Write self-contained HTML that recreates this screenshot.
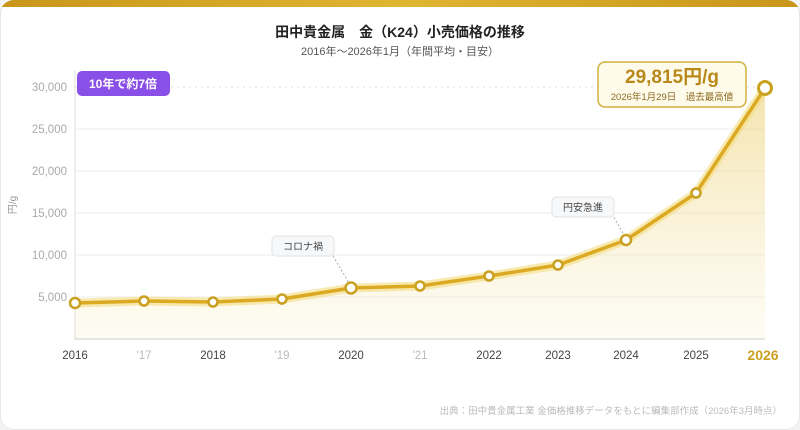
<!DOCTYPE html>
<html><head><meta charset="utf-8"><style>
body{margin:0;background:#f3f3f3;font-family:"Liberation Sans","Noto Sans CJK JP",sans-serif}
.card{position:absolute;left:0;top:0;width:800px;height:430px;background:#fff;border-radius:14px;overflow:hidden;box-shadow:inset 0 0 0 1px #e6e6e6}
.bar{position:absolute;left:0;top:0;width:800px;height:7px;background:linear-gradient(90deg,#c9961a,#e0b530,#c9961a)}
</style></head><body><div class="card"><div class="bar"></div>
<svg width="800" height="430" style="position:absolute;left:0;top:0" font-family="Liberation Sans, Noto Sans CJK JP, sans-serif">
<defs>
<linearGradient id="f" x1="0" y1="0" x2="0" y2="1"><stop offset="0" stop-color="#e8c85a" stop-opacity="0.5"/><stop offset="1" stop-color="#f5e6b0" stop-opacity="0.15"/></linearGradient>
</defs>
<text x="400" y="37" text-anchor="middle" font-size="14" font-weight="bold" fill="#222">田中貴金属　金（K24）小売価格の推移</text>
<text x="400" y="55" text-anchor="middle" font-size="11" fill="#555">2016年〜2026年1月（年間平均・目安）</text>
<g stroke="#eee" stroke-width="1">
<line x1="75" y1="87" x2="765" y2="87" stroke="#ddd" stroke-dasharray="2 4"/>
<line x1="75" y1="129" x2="765" y2="129"/><line x1="75" y1="171" x2="765" y2="171"/><line x1="75" y1="213" x2="765" y2="213"/><line x1="75" y1="255" x2="765" y2="255"/><line x1="75" y1="297" x2="765" y2="297"/>
</g>
<line x1="75" y1="70" x2="75" y2="340" stroke="#ddd"/>
<line x1="75" y1="339" x2="765" y2="339" stroke="#ddd" stroke-width="1.5"/>
<g font-size="11.5" fill="#aaa" text-anchor="end">
<text x="67" y="91">30,000</text><text x="67" y="133">25,000</text><text x="67" y="175">20,000</text><text x="67" y="217">15,000</text><text x="67" y="259">10,000</text><text x="67" y="301">5,000</text>
</g>
<text x="16" y="205" font-size="10" fill="#999" transform="rotate(-90 16 205)" text-anchor="middle">円/g</text>
<path d="M75,303 L144,301 L213,302 L282,299 L351,288 L420,286 L489,276 L558,265 L626,240 L696,193 L765,88 L765,339 L75,339Z" fill="url(#f)"/>
<polyline points="75,303 144,301 213,302 282,299 351,288 420,286 489,276 558,265 626,240 696,193 765,88" fill="none" stroke="#f3dc80" stroke-width="9" stroke-opacity="0.6" stroke-linejoin="round"/>
<polyline points="75,303 144,301 213,302 282,299 351,288 420,286 489,276 558,265 626,240 696,193 765,88" fill="none" stroke="#dcaa22" stroke-width="3.5" stroke-linejoin="round"/>
<g fill="#fff" stroke="#c9a020" stroke-width="2.5">
<circle cx="75" cy="303" r="5"/><circle cx="144" cy="301" r="4.5"/><circle cx="213" cy="302" r="4.5"/><circle cx="282" cy="299" r="4.5"/><circle cx="351" cy="288" r="5.5"/><circle cx="420" cy="286" r="4.5"/><circle cx="489" cy="276" r="4.5"/><circle cx="558" cy="265" r="4.5"/><circle cx="626" cy="240" r="5"/><circle cx="696" cy="193" r="4.5"/><circle cx="765" cy="88" r="6.5" stroke-width="3"/>
</g>
<g font-size="11.5" text-anchor="middle">
<text x="75" y="359" fill="#444">2016</text><text x="144" y="359" fill="#bbb">'17</text><text x="213" y="359" fill="#444">2018</text><text x="282" y="359" fill="#bbb">'19</text><text x="351" y="359" fill="#444">2020</text><text x="420" y="359" fill="#bbb">'21</text><text x="489" y="359" fill="#444">2022</text><text x="558" y="359" fill="#444">2023</text><text x="626" y="359" fill="#444">2024</text><text x="696" y="359" fill="#444">2025</text>
<text x="763" y="360" fill="#c9a020" font-size="14" font-weight="bold">2026</text>
</g>
<line x1="333" y1="256" x2="349" y2="283" stroke="#aaa" stroke-dasharray="2 2"/>
<rect x="272" y="236" width="62" height="20" rx="4" fill="#f7f8fa" stroke="#e2e2e2"/>
<text x="303" y="250" text-anchor="middle" font-size="10" fill="#444">コロナ禍</text>
<line x1="612" y1="214" x2="624" y2="235" stroke="#aaa" stroke-dasharray="2 2"/>
<rect x="552" y="197" width="62" height="20" rx="4" fill="#f7f8fa" stroke="#e2e2e2"/>
<text x="583" y="211" text-anchor="middle" font-size="10" fill="#444">円安急進</text>
<rect x="77" y="71" width="93" height="25" rx="5" fill="#8a4fe6"/>
<text x="123" y="88" text-anchor="middle" font-size="12" font-weight="bold" fill="#fff">10年で約7倍</text>
<rect x="598" y="62" width="148" height="45" rx="7" fill="#fffbea" stroke="#d4b040" stroke-width="1.5"/>
<text x="672" y="83" text-anchor="middle" font-size="19" font-weight="bold" fill="#b8891a">29,815円/g</text>
<text x="672" y="100" text-anchor="middle" font-size="9.5" fill="#8a6a20">2026年1月29日　過去最高値</text>
<text x="782" y="414" text-anchor="end" font-size="9.5" fill="#bbb">出典：田中貴金属工業 金価格推移データをもとに編集部作成（2026年3月時点）</text>
</svg></div></body></html>
